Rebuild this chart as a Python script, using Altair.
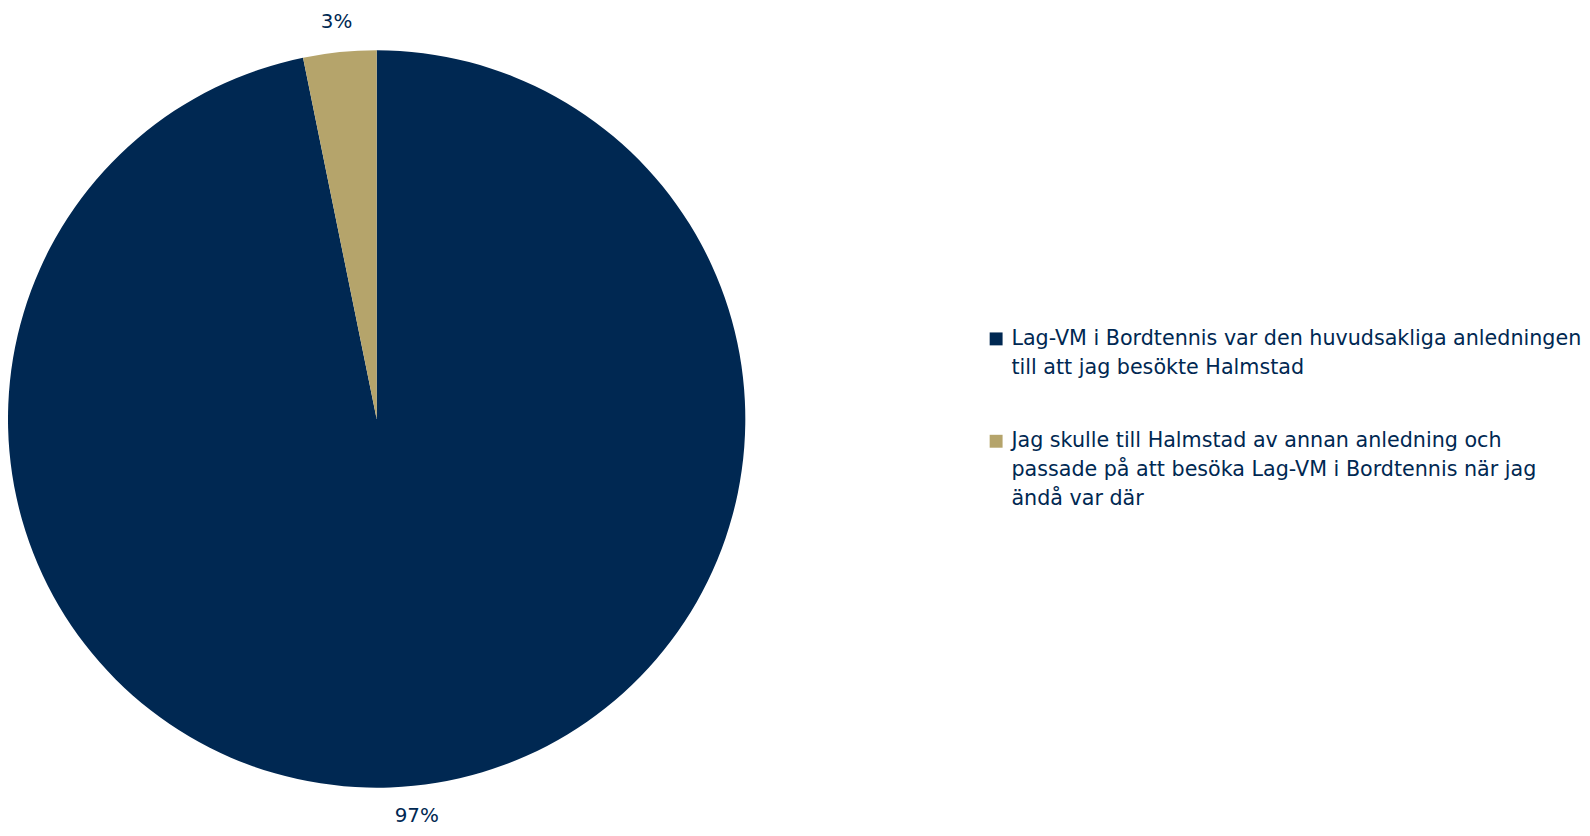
import altair as alt
import pandas as pd

categories = [
    "Lag-VM i Bordtennis var den huvudsakliga anledningen\ntill att jag besökte Halmstad",
    "\u2002Jag skulle till Halmstad av annan anledning och\npassade på att besöka Lag-VM i Bordtennis när jag\nändå var där",
]
shares = [96.8, 3.2]
labels = ["97%", "3%"]
order = [0, 1]
colors = ["#002852", "#b5a46b"]
navy = "#002852"
font = "DejaVu Sans"

df = pd.DataFrame({"category": categories, "share": shares, "label": labels, "order": order})

base = alt.Chart(df).encode(
    theta=alt.Theta("share:Q", stack=True),
    order=alt.Order("order:Q"),
)

pie = base.mark_arc(outerRadius=371).encode(
    color=alt.Color(
        "category:N",
        scale=alt.Scale(domain=categories, range=colors),
        legend=alt.Legend(
            title=None,
            orient="none",
            legendX=984,
            legendY=280,
            padding=0,
            symbolType="square",
            symbolSize=169,
            symbolStrokeWidth=0,
            labelFont=font,
            labelFontSize=20.8,
            labelColor=navy,
            labelLimit=800,
            labelOffset=5,
            labelExpr="split(datum.label, '\\n')",
            rowPadding=52,
        ),
    )
)

text = base.mark_text(radius=402, fontSize=20, font=font, color=navy).encode(
    text="label:N"
)

chart = (
    alt.layer(pie, text)
    .properties(width=742, height=742, padding={"top": 1, "left": 0, "right": 0, "bottom": 0})
    .configure_view(stroke=None)
    .configure(style={"guide-label": {"lineHeight": 29}})
)

chart.save("out.html", embed_options={"renderer": "svg", "actions": False})
